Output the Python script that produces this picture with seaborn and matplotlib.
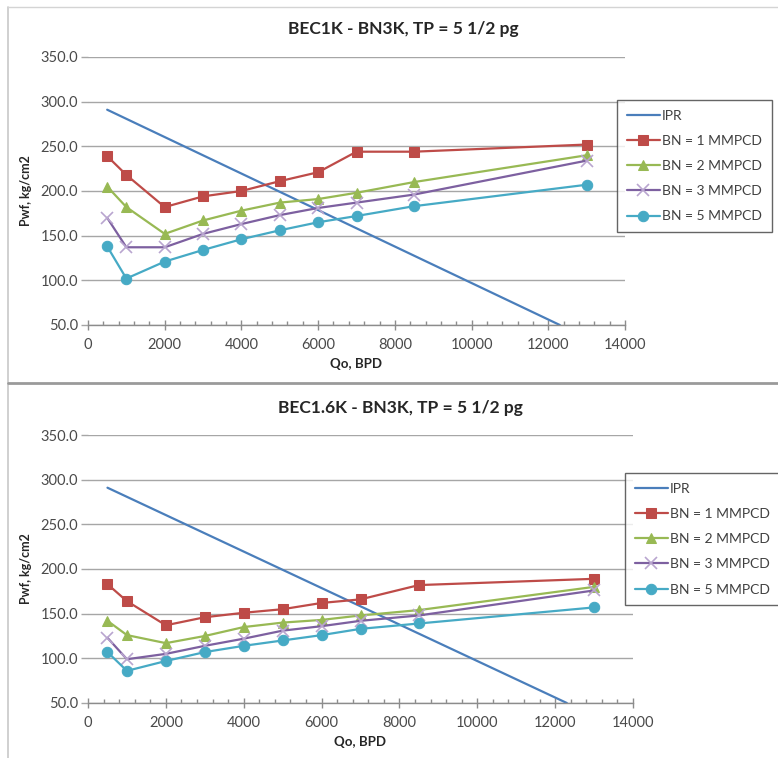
import matplotlib
matplotlib.use("Agg")
import matplotlib.pyplot as plt
from matplotlib.lines import Line2D
from matplotlib.ticker import MultipleLocator, FormatStrFormatter
import seaborn as sns
import pandas as pd

sns.set_theme(style="white")
plt.rcParams['font.family'] = ['Lato', 'DejaVu Sans']

# ---- data ----
qo = [500, 1000, 2000, 3000, 4000, 5000, 6000, 7000, 8500, 13000]
ipr_q = [500, 12300]
ipr_p = [291, 50]

top_title = "BEC1K - BN3K, TP = 5 1/2 pg"
top_bn1 = [239, 218, 182, 194, 200, 211, 221, 244, 244, 252]
top_bn2 = [205, 182, 152, 167, 178, 187, 191, 198, 210, 240]
top_bn3 = [170, 137, 137, 152, 163, 173, 181, 187, 196, 234]
top_bn5 = [138, 102, 121, 134, 146, 156, 165, 172, 183, 207]

bot_title = "BEC1.6K - BN3K, TP = 5 1/2 pg"
bot_bn1 = [183, 164, 137, 146, 151, 155, 162, 166, 182, 189]
bot_bn2 = [142, 126, 117, 125, 135, 140, 143, 148, 154, 180]
bot_bn3 = [123, 99, 105, 114, 122, 131, 136, 142, 148, 176]
bot_bn5 = [107, 86, 97, 107, 114, 120, 126, 133, 139, 157]

labels = ["IPR", "BN = 1 MMPCD", "BN = 2 MMPCD", "BN = 3 MMPCD", "BN = 5 MMPCD"]
colors = ["#4a7ebb", "#be4b48", "#98b954", "#7d60a0", "#46aac5"]
markers = [None, "s", "^", "x", "o"]

fig = plt.figure(figsize=(7.78, 7.58), dpi=100)

def panel(rect, title, title_xy, series, leg_anchor):
    ax = fig.add_axes(rect)
    # IPR
    sns.lineplot(x=ipr_q, y=ipr_p, color=colors[0], lw=1.6, ax=ax, label=labels[0])
    for i, vals in enumerate(series, start=1):
        df = pd.DataFrame({"q": qo, "p": vals})
        if markers[i] == "x":
            sns.lineplot(data=df, x="q", y="p", color=colors[i], lw=1.6, marker="x",
                         markersize=8, markeredgecolor="#b9a5cf", markeredgewidth=1.2,
                         ax=ax, label=labels[i])
        else:
            sns.lineplot(data=df, x="q", y="p", color=colors[i], lw=1.6, marker=markers[i],
                         markersize=7.5 if markers[i] != "^" else 7, markeredgecolor=colors[i],
                         ax=ax, label=labels[i])
    ax.set_xlim(0, 14000)
    ax.set_ylim(50, 350)
    ax.xaxis.set_major_locator(MultipleLocator(2000))
    ax.xaxis.set_minor_locator(MultipleLocator(400))
    ax.yaxis.set_major_locator(MultipleLocator(50))
    ax.yaxis.set_major_formatter(FormatStrFormatter("%.1f"))
    ax.grid(axis="y", color="#a6a6a6", lw=1.0)
    ax.grid(axis="x", visible=False)
    for s in ["top", "right", "left"]:
        ax.spines[s].set_visible(False)
    ax.spines["bottom"].set_color("#8c8c8c")
    ax.spines["bottom"].set_linewidth(1.0)
    ax.tick_params(axis="x", which="major", direction="inout", length=7, width=1,
                   color="#8c8c8c", labelsize=10.5, labelcolor="#4a4a4a", pad=6, bottom=True)
    ax.tick_params(axis="x", which="minor", direction="in", length=3, width=1,
                   color="#8c8c8c", bottom=True)
    ax.tick_params(axis="y", which="major", direction="out", length=5, width=1,
                   color="#a6a6a6", labelsize=10.5, labelcolor="#4a4a4a", pad=2, left=True)
    fig.text(title_xy[0] / 778, 1 - title_xy[1] / 758, title, fontsize=12.5,
             fontweight="bold", color="#262626", ha="center", va="center")
    ax.set_xlabel("Qo, BPD", fontsize=9.5, fontweight="bold", color="#262626", labelpad=4)
    ax.set_ylabel("Pwf, kg/cm2", fontsize=9, fontweight="bold", color="#262626", labelpad=6)
    leg = ax.legend(loc="upper left", bbox_to_anchor=leg_anchor, bbox_transform=fig.transFigure,
                    borderaxespad=0, fancybox=False, frameon=True, fontsize=10,
                    labelspacing=0.95, handlelength=2.4, handletextpad=0.15,
                    borderpad=0.7, labelcolor="#404040")
    leg.get_frame().set_edgecolor("#3f3f3f")
    leg.get_frame().set_linewidth(1.0)
    return ax

panel([88/778, 1 - 325/758, 537/778, 268/758], top_title, (403, 29),
      [top_bn1, top_bn2, top_bn3, top_bn5], (617/778, 1 - 100/758))
panel([88/778, 1 - 703/758, 545/778, 268/758], bot_title, (400, 408),
      [bot_bn1, bot_bn2, bot_bn3, bot_bn5], (625/778, 1 - 473/758))

# chart frames
fig.add_artist(Line2D([8/778, 8/778], [0, 1 - 7/758], color="#c8c8c8", lw=1.2))
fig.add_artist(Line2D([8/778, 1], [1 - 7/758, 1 - 7/758], color="#d4d4d4", lw=1.0))
fig.add_artist(Line2D([8/778, 1], [1 - 383/758, 1 - 383/758], color="#9a9a9a", lw=2.0))

fig.savefig("out.png", dpi=100)
